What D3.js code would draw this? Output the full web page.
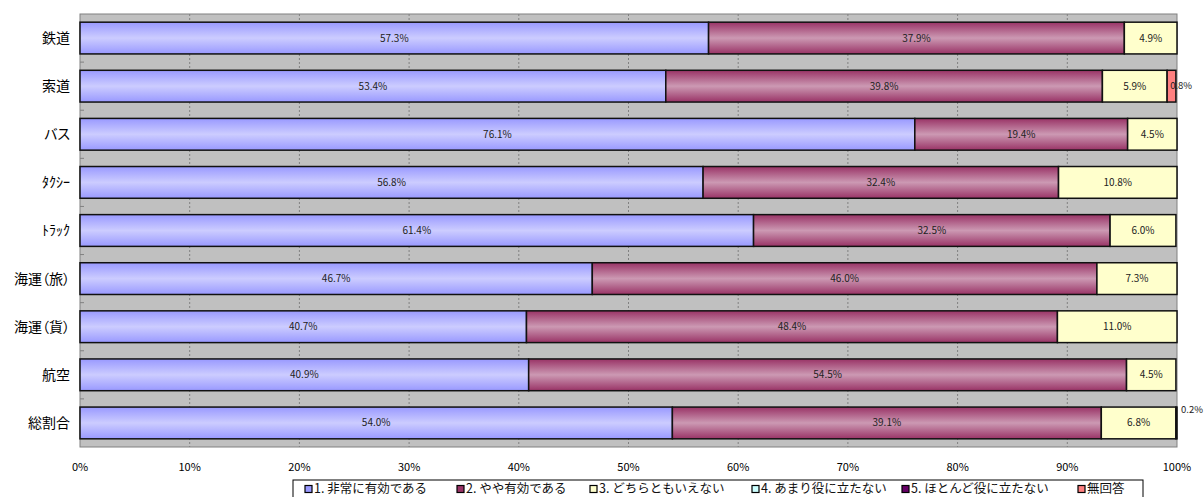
<!DOCTYPE html>
<html><head><meta charset="utf-8">
<script src="https://cdn.jsdelivr.net/npm/d3@7"></script>
<style>
body{margin:0;background:#fff;}
text{font-family:"Noto Sans CJK JP","Noto Sans",sans-serif;}
.cat{font-feature-settings:"palt";}
</style></head>
<body>
<svg id="chart" width="1204" height="497"></svg>
<script>
const categories = ["鉄道","索道","バス","ﾀｸｼｰ","ﾄﾗｯｸ","海運（旅）","海運（貨）","航空","総割合"];
const seriesNames = ["1. 非常に有効である","2. やや有効である","3. どちらともいえない","4. あまり役に立たない","5. ほとんど役に立たない","無回答"];
const s1 = [57.3,53.4,76.1,56.8,61.4,46.7,40.7,40.9,54.0];
const s2 = [37.9,39.8,19.4,32.4,32.5,46.0,48.4,54.5,39.1];
const s3 = [4.9,5.9,4.5,10.8,6.0,7.3,11.0,4.5,6.8];
const s4 = [0,0,0,0,0,0,0,0,0];
const s5 = [0,0,0,0,0,0,0,0,0];
const s6 = [0,0.8,0,0,0,0,0,0,0.2];
const xTicks = [0,10,20,30,40,50,60,70,80,90,100];
const seriesValues = [s1,s2,s3,s4,s5,s6];
const colors = ["#9999FF","#993366","#FFFFCC","#CCFFFF","#660066","#FF8080"];
const midColors = ["#CCCCFF","#CC99B3","#FFFFCC","#CCFFFF","#660066","#FF8080"];

const svg = d3.select("#chart");
const m = {l:80, r:27, t:14, b:50};
const W = 1204, H = 497;
const x = d3.scaleLinear().domain([0,100]).range([m.l, W-m.r]);
const y = d3.scaleBand().domain(categories).range([m.t, m.t+433]).paddingInner(0.34).paddingOuter(0.17);

const defs = svg.append("defs");
colors.forEach((c,i)=>{
  const g = defs.append("linearGradient").attr("id","g"+i).attr("x1",0).attr("y1",0).attr("x2",0).attr("y2",1);
  g.append("stop").attr("offset","0%").attr("stop-color",c);
  g.append("stop").attr("offset","50%").attr("stop-color",midColors[i]);
  g.append("stop").attr("offset","100%").attr("stop-color",c);
});

// plot background
svg.append("rect").attr("x",x(0)).attr("y",m.t).attr("width",x(100)-x(0)).attr("height",433)
  .attr("fill","#C0C0C0").attr("stroke","#808080").attr("stroke-width",1);

// gridlines
svg.append("g").selectAll("line").data(xTicks.filter(d=>d>0&&d<100)).join("line")
  .attr("x1",d=>x(d)).attr("x2",d=>x(d)).attr("y1",m.t).attr("y2",m.t+433)
  .attr("stroke","#808080").attr("stroke-dasharray","2,2").attr("stroke-width",1);

// left inner ticks at band boundaries
const step = y.step();
svg.append("g").selectAll("line").data(d3.range(1,categories.length)).join("line")
  .attr("x1",x(0)).attr("x2",x(0)+4)
  .attr("y1",d=>m.t+d*step).attr("y2",d=>m.t+d*step)
  .attr("stroke","#808080");

// stacked data
const rows = categories.map((c,ci)=>{
  let acc=0;
  return seriesValues.map((s,si)=>{const v=s[ci]; const r={cat:c,si,v,x0:acc,x1:Math.min(acc+v,100)}; acc+=v; return r;});
});
const segs = rows.flat().filter(d=>d.v>0);

svg.append("g").selectAll("rect").data(segs).join("rect")
  .attr("x",d=>x(d.x0)).attr("y",d=>y(d.cat))
  .attr("width",d=>x(d.x1)-x(d.x0)).attr("height",y.bandwidth())
  .attr("fill",d=>"url(#g"+d.si+")").attr("stroke","#111").attr("stroke-width",1.5);

// value labels
svg.append("g").selectAll("text").data(segs).join("text")
  .attr("x",d=>{
    if(d.v>=2) return (x(d.x0)+x(d.x1))/2;
    return d.cat==="総割合" ? x(100)+4 : x(d.x0)+3;
  })
  .attr("y",d=>y(d.cat)+y.bandwidth()/2 + (d.v<2 && d.cat==="総割合" ? -13 : 0))
  .attr("dy","0.35em")
  .attr("text-anchor",d=>d.v>=2?"middle":"start")
  .attr("font-size",d=>d.v>=2?10:9.5).attr("fill","#222")
  .text(d=>d.v.toFixed(1)+"%");

// category labels
svg.append("g").selectAll("text").data(categories).join("text")
  .attr("class","cat")
  .attr("x",x(0)-10).attr("y",d=>y(d)+y.bandwidth()/2).attr("dy","0.35em")
  .attr("text-anchor","end").attr("font-size",14).attr("fill","#000").text(d=>d);

// x axis labels
svg.append("g").selectAll("text").data(xTicks).join("text")
  .attr("x",d=>x(d)).attr("y",467).attr("dy","0.35em")
  .attr("text-anchor","middle").attr("font-size",11).attr("fill","#000").text(d=>d+"%");

// legend
const legX = [305,457,590,752,902,1078];
const lg = svg.append("g");
lg.append("rect").attr("x",293).attr("y",480).attr("width",850).attr("height",30)
  .attr("fill","#fff").attr("stroke","#000").attr("stroke-width",1);
seriesNames.forEach((n,i)=>{
  lg.append("rect").attr("x",legX[i]).attr("y",485.5).attr("width",7).attr("height",7)
    .attr("fill",colors[i]).attr("stroke","#000").attr("stroke-width",1.2);
  lg.append("text").attr("x",legX[i]+9).attr("y",489).attr("dy","0.35em")
    .attr("font-size",12.5).attr("fill","#111").text(n);
});
</script>
</body></html>
